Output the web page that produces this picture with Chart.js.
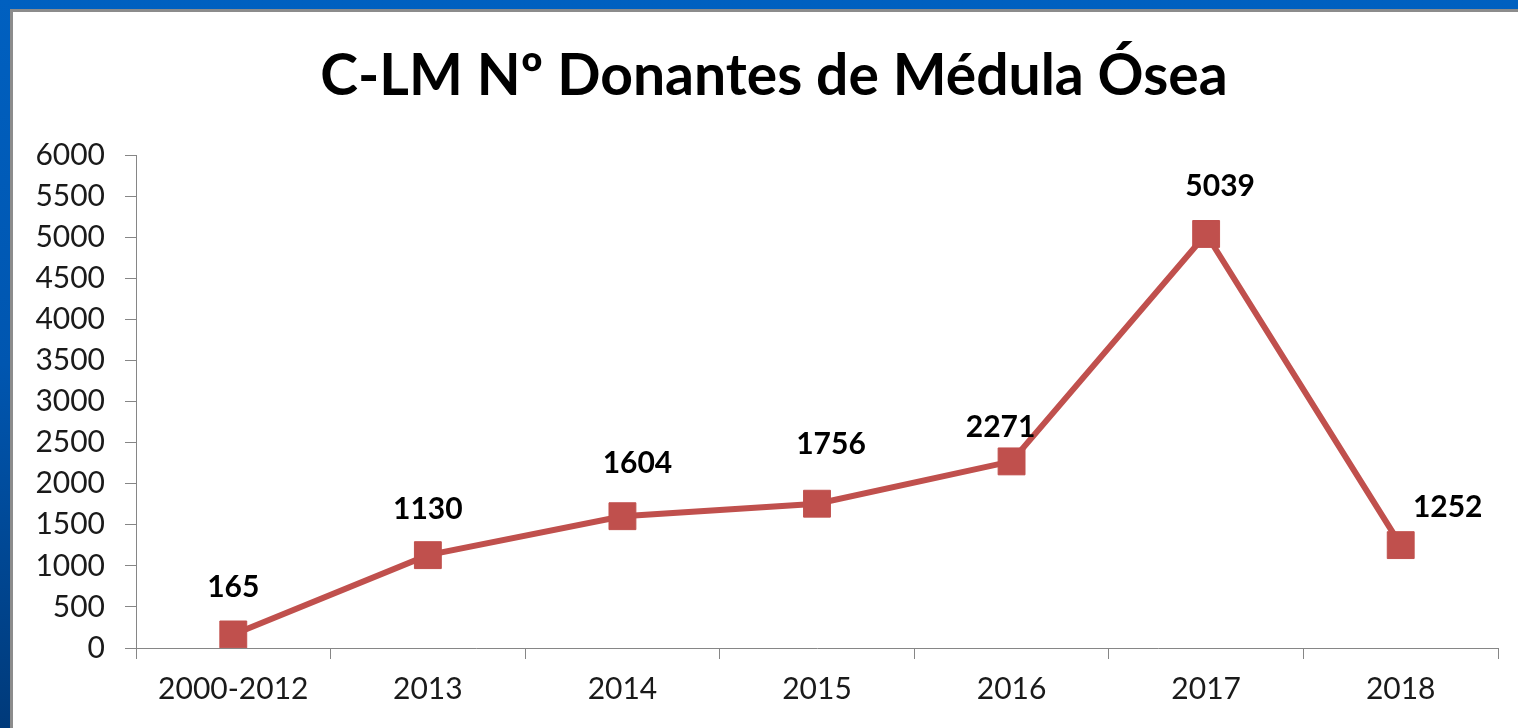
<!DOCTYPE html>
<html>
<head>
<meta charset="utf-8">
<script src="https://cdn.jsdelivr.net/npm/chart.js@4"></script>
<style>
  html, body { margin: 0; padding: 0; }
  body { width: 1518px; height: 728px; overflow: hidden; position: relative;
         background: linear-gradient(#0060c0, #0056b0 50%, #003a7a); }
  #panel { position: absolute; left: 10px; top: 9px; right: 0; bottom: 0;
           background: #fff; border-left: 3px solid #8c8c8c; border-top: 3px solid #8c8c8c; }
  #wrap { position: absolute; left: 0; top: 0; width: 1518px; height: 728px; }
</style>
</head>
<body>
<div id="panel"></div>
<div id="wrap"><canvas id="myChart"></canvas></div>
<script>
// data
const categories = ['2000-2012', '2013', '2014', '2015', '2016', '2017', '2018'];
const donantes = [165, 1130, 1604, 1756, 2271, 5039, 1252];
const yTicks = [0, 500, 1000, 1500, 2000, 2500, 3000, 3500, 4000, 4500, 5000, 5500, 6000];
const titleText = 'C-LM Nº Donantes de Médula Ósea';

const FONT = 'Lato, "Open Sans", sans-serif';
const RED = '#c0504d';
const AXIS = '#868686';

// where each value label sits relative to its marker
const labelShift = [[0, -47], [0, -46], [15, -53], [14, -59], [-11, -34], [14, -48], [47, -38]];

// title is centred on the white panel, not on the canvas, so draw it here
const panelTitle = {
  id: 'panelTitle',
  afterDraw(chart) {
    const ctx = chart.ctx;
    ctx.save();
    ctx.font = 'bold 57px ' + FONT;
    ctx.fillStyle = '#000';
    ctx.textAlign = 'center';
    ctx.textBaseline = 'middle';
    ctx.fillText(titleText, 774, 77);
    ctx.restore();
  }
};

const valueLabels = {
  id: 'valueLabels',
  afterDatasetsDraw(chart) {
    const ctx = chart.ctx;
    const meta = chart.getDatasetMeta(0);
    ctx.save();
    ctx.font = 'bold 30px ' + FONT;
    ctx.fillStyle = '#000';
    ctx.textAlign = 'center';
    ctx.textBaseline = 'middle';
    meta.data.forEach((pt, i) => {
      const s = labelShift[i];
      ctx.fillText(String(donantes[i]), pt.x + s[0], pt.y + s[1]);
    });
    ctx.restore();
  }
};

new Chart(document.getElementById('myChart'), {
  type: 'line',
  data: {
    labels: categories,
    datasets: [{
      label: 'Donantes',
      data: donantes,
      borderColor: RED,
      backgroundColor: RED,
      borderWidth: 6,
      pointStyle: 'rect',
      pointRadius: 19,
      pointBorderWidth: 1,
      pointBorderColor: RED,
      pointBackgroundColor: RED,
      tension: 0
    }]
  },
  options: {
    responsive: true,
    maintainAspectRatio: false,
    animation: false,
    layout: { padding: { left: 0, right: 19, top: 155, bottom: 0 } },
    plugins: {
      legend: { display: false },
      tooltip: { enabled: false },
      title: { display: false }
    },
    scales: {
      x: {
        offset: true,
        grid: { offset: true, drawOnChartArea: false, color: AXIS, tickLength: 11, lineWidth: 1 },
        border: { color: AXIS, width: 1 },
        ticks: { color: '#1a1a1a', font: { family: FONT, size: 30 }, padding: 12, maxRotation: 0 },
        afterFit(scale) { scale.height = 80; }
      },
      y: {
        min: 0,
        max: 6000,
        afterBuildTicks(scale) { scale.ticks = yTicks.map(v => ({ value: v })); },
        grid: { drawOnChartArea: false, color: AXIS, tickLength: 11 },
        border: { color: AXIS, width: 1 },
        ticks: { color: '#1a1a1a', font: { family: FONT, size: 30 }, padding: 20,
                 callback: v => String(v) },
        afterFit(scale) { scale.width = 136; }
      }
    }
  },
  plugins: [valueLabels, panelTitle]
});
</script>
</body>
</html>
